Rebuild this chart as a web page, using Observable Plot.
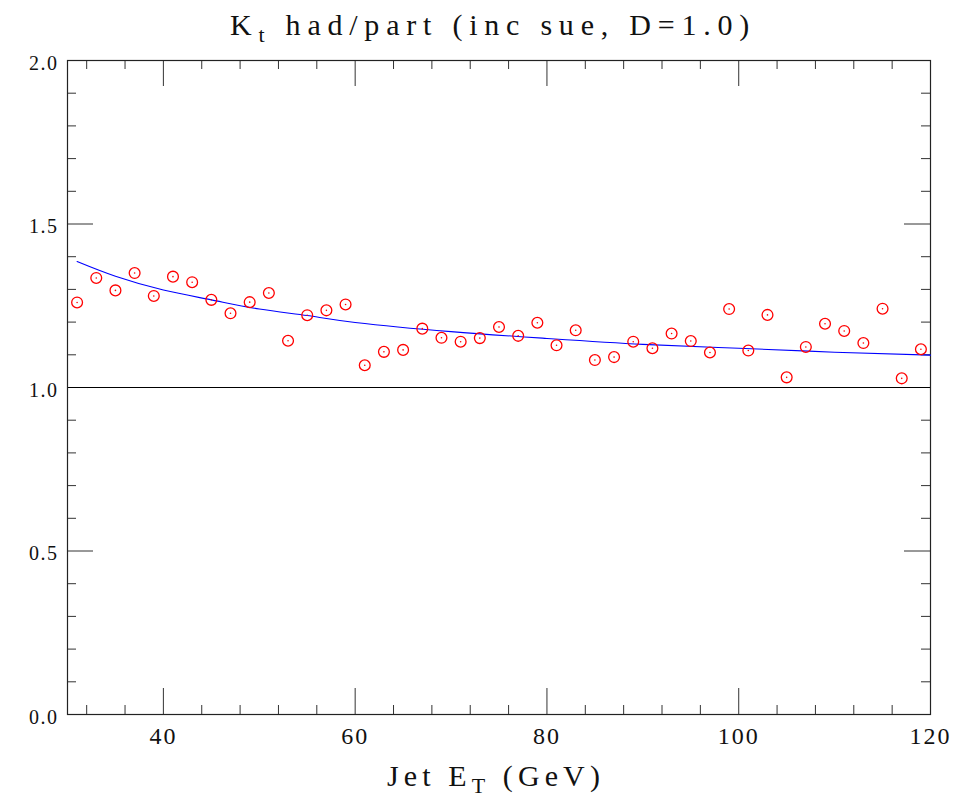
<!DOCTYPE html>
<html>
<head>
<meta charset="utf-8">
<script src="https://cdn.jsdelivr.net/npm/d3@7"></script>
<script src="https://cdn.jsdelivr.net/npm/@observablehq/plot@0.6"></script>
<style>
  html, body { margin: 0; padding: 0; background: #fff; }
</style>
</head>
<body>
<div id="chart"></div>
<script>
// ---- data ----
const jetEt = [31,33,35,37,39,41,43,45,47,49,51,53,55,57,59,61,63,65,67,69,71,73,75,77,79,81,83,85,87,89,91,93,95,97,99,101,103,105,107,109,111,113,115,117,119];
const ratio = [1.260,1.335,1.297,1.350,1.280,1.339,1.322,1.268,1.227,1.261,1.289,1.143,1.221,1.236,1.254,1.068,1.109,1.115,1.180,1.152,1.140,1.151,1.185,1.158,1.198,1.129,1.175,1.084,1.093,1.140,1.120,1.165,1.142,1.107,1.240,1.113,1.222,1.031,1.124,1.195,1.173,1.136,1.241,1.028,1.117];
const fitX = [31,35,40,45,50,55,60,70,80,90,100,110,120];
const fitY = [1.385,1.340,1.298,1.268,1.240,1.220,1.199,1.171,1.150,1.132,1.120,1.108,1.099];
const xMajor = [40,60,80,100];
const xMinor = [32,36,44,48,52,56,64,68,72,76,84,88,92,96,104,108,112,116];
const xTickLabels = [40,60,80,100,120];
const yMajor = [0,0.5,1,1.5,2];
const yMinor = [0.1,0.2,0.3,0.4,0.6,0.7,0.8,0.9,1.1,1.2,1.3,1.4,1.6,1.7,1.8,1.9];
const yTickLabels = [0,0.5,1,1.5,2];
const titleMain = "K";
const titleSub = "t";
const titleRest = " had/part (inc sue, D=1.0)";
const xLabelMain = "Jet E";
const xLabelSub = "T";
const xLabelRest = " (GeV)";

const points = jetEt.map((x, i) => ({x, y: ratio[i]}));
const fit = fitX.map((x, i) => ({x, y: fitY[i]}));

// ---- layout ----
const FONT = "'Liberation Serif', 'DejaVu Serif', serif";
const W = 974, H = 800;
const mTop = 60, mBottom = 86, mLeft = 67, mRight = 44;
const plotH = H - mTop - mBottom;
const plotW = W - mLeft - mRight;
const majorLen = 26, minorLen = 9;
const tickColor = "#333";

const chart = Plot.plot({
  width: W,
  height: H,
  marginTop: mTop,
  marginBottom: mBottom,
  marginLeft: mLeft,
  marginRight: mRight,
  x: {domain: [30, 120], axis: null},
  y: {domain: [0, 2], axis: null},
  style: {background: "#fff", overflow: "visible", fontFamily: FONT},
  marks: [
    Plot.ruleX(xMajor, {x: d => d, insetTop: plotH - majorLen, stroke: tickColor, strokeWidth: 1}),
    Plot.ruleX(xMajor, {x: d => d, insetBottom: plotH - majorLen, stroke: tickColor, strokeWidth: 1}),
    Plot.ruleX(xMinor, {x: d => d, insetTop: plotH - minorLen, stroke: tickColor, strokeWidth: 1}),
    Plot.ruleX(xMinor, {x: d => d, insetBottom: plotH - minorLen, stroke: tickColor, strokeWidth: 1}),
    Plot.ruleY(yMajor, {y: d => d, insetRight: plotW - majorLen, stroke: tickColor, strokeWidth: 1}),
    Plot.ruleY(yMajor, {y: d => d, insetLeft: plotW - majorLen, stroke: tickColor, strokeWidth: 1}),
    Plot.ruleY(yMinor, {y: d => d, insetRight: plotW - minorLen, stroke: tickColor, strokeWidth: 1}),
    Plot.ruleY(yMinor, {y: d => d, insetLeft: plotW - minorLen, stroke: tickColor, strokeWidth: 1}),
    Plot.ruleY([1], {stroke: "#000", strokeWidth: 1.2}),
    Plot.frame({stroke: "#222", strokeWidth: 1.2}),
    Plot.line(fit, {x: "x", y: "y", stroke: "#0000ff", strokeWidth: 1.1, curve: "natural"}),
    Plot.dot(points, {x: "x", y: "y", r: 5.4, stroke: "#ff0000", strokeWidth: 1.3, fill: "none"}),
    Plot.dot(points, {x: "x", y: "y", r: 0.8, fill: "#ff0000", stroke: "none"}),
    Plot.text(xTickLabels, {x: d => d, text: d => String(d), frameAnchor: "bottom", dy: 29,
      fontSize: 24, fontFamily: FONT, fill: "#111", textAnchor: "middle", className: "xtl"}),
    Plot.text(yTickLabels, {y: d => d, text: d => d3.format(".1f")(d), frameAnchor: "left", dx: -9, dy: 3,
      fontSize: 20, fontFamily: FONT, fill: "#111", textAnchor: "end", className: "ytl"})
  ]
});

document.getElementById("chart").appendChild(chart);
const svg = d3.select(chart);
svg.selectAll(".xtl text").style("letter-spacing", "2px");
svg.selectAll(".ytl text").style("letter-spacing", "1.5px");

// helper: text with subscript, stretched by letter-spacing to a target width
function subText(main, sub, rest, x, y, size, subSize, target) {
  const t = svg.append("text")
    .attr("x", x).attr("y", y)
    .attr("text-anchor", "start")
    .attr("font-family", FONT)
    .attr("font-size", size).attr("fill", "#111");
  t.append("tspan").text(main);
  t.append("tspan").attr("dy", 7).attr("font-size", subSize).text(sub);
  t.append("tspan").attr("dy", -7).text(rest);
  const w = t.node().getBBox().width;
  const n = (main + sub + rest).length;
  const ls = Math.max(0, (target - w) / n);
  t.style("letter-spacing", ls + "px");
  return t;
}

subText(titleMain, titleSub, titleRest, 230, 35, 30, 22, 526);
subText(xLabelMain, xLabelSub, xLabelRest, 387, 786, 30, 22, 218);
</script>
</body>
</html>
